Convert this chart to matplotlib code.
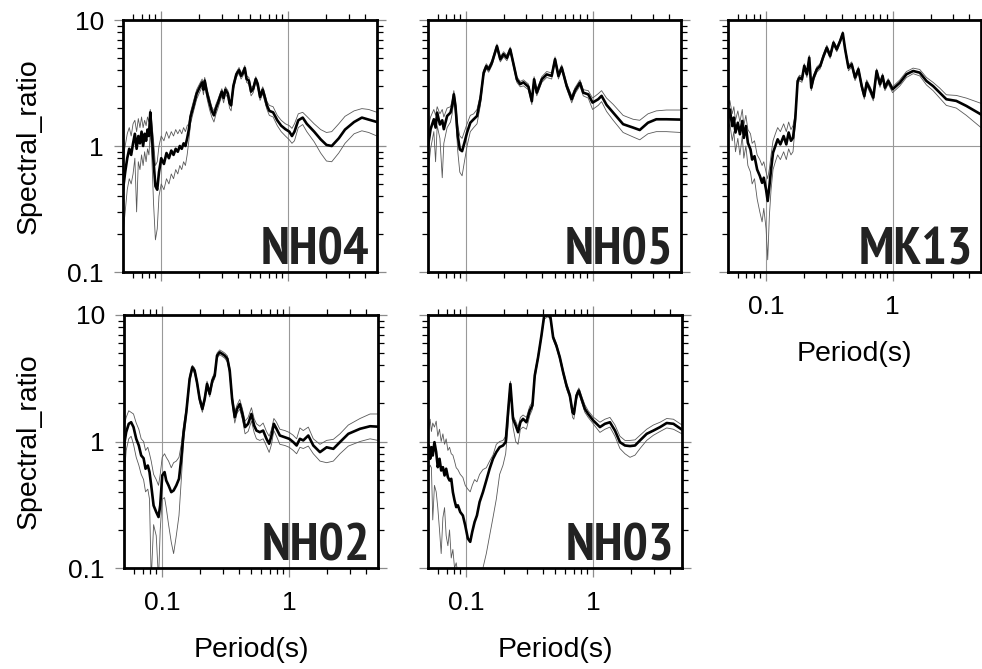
import matplotlib
matplotlib.use("Agg")
import matplotlib.pyplot as plt
from matplotlib.ticker import FixedLocator, FixedFormatter, NullFormatter

# ---------------- spectral ratio data (period in s) ----------------
nh04_period = [0.050, 0.052, 0.054, 0.056, 0.058, 0.060, 0.062, 0.064, 0.066, 0.068,
               0.070, 0.072, 0.074, 0.076, 0.078, 0.080, 0.082, 0.084, 0.087, 0.090,
               0.093, 0.096, 0.100, 0.105, 0.110, 0.115, 0.120, 0.125, 0.130, 0.135,
               0.140, 0.145, 0.150, 0.155, 0.160, 0.165, 0.170, 0.180, 0.190, 0.200,
               0.210, 0.215, 0.220, 0.230, 0.240, 0.250, 0.260, 0.270, 0.280, 0.290,
               0.300, 0.310, 0.320, 0.335, 0.345, 0.355, 0.370, 0.390, 0.410, 0.425,
               0.440, 0.455, 0.470, 0.490, 0.510, 0.530, 0.555, 0.575, 0.600, 0.630,
               0.650, 0.680, 0.710, 0.760, 0.820, 0.880, 0.950, 1.02, 1.07, 1.12,
               1.20, 1.30, 1.40, 1.60, 1.80, 2.00, 2.20, 2.50, 2.80, 3.30,
               3.80, 4.30, 5.00]
nh04_mean = [0.45, 0.62, 0.80, 0.95, 0.85, 1.05, 1.25, 0.95, 1.2, 1.05,
             1.3, 1.0, 1.25, 1.1, 1.35, 1.2, 1.85, 1.3, 0.75, 0.48,
             0.45, 0.62, 0.8, 0.72, 0.88, 0.8, 0.92, 0.85, 0.95, 0.9,
             1.0, 0.95, 1.05, 1.0, 1.15, 1.35, 1.7, 2.1, 2.6, 2.9,
             3.2, 2.8, 3.3, 2.6, 2.2, 1.9, 1.75, 2.0, 2.2, 2.45,
             2.7, 2.4, 2.8, 2.6, 2.2, 2.1, 3.0, 3.7, 4.0, 3.6,
             3.8, 4.15, 3.4, 3.3, 2.7, 2.85, 3.4, 3.1, 2.45, 2.8,
             2.5, 2.1, 1.9, 1.85, 1.6, 1.45, 1.36, 1.3, 1.2, 1.3,
             1.6, 1.68, 1.5, 1.3, 1.13, 1.02, 1.0, 1.15, 1.35, 1.55,
             1.68, 1.62, 1.55]
nh04_upper = [0.8, 1.0, 1.25, 1.4, 1.2, 1.5, 1.6, 1.3, 1.65, 1.4,
              1.7, 1.4, 1.6, 1.45, 1.7, 1.55, 1.95, 1.6, 1.1, 0.7,
              0.75, 1.0, 1.2, 1.1, 1.3, 1.15, 1.3, 1.2, 1.35, 1.25,
              1.35, 1.25, 1.4, 1.3, 1.45, 1.5, 1.85, 2.3, 2.8, 3.1,
              3.4, 3.0, 3.5, 2.8, 2.4, 2.05, 1.9, 2.15, 2.35, 2.6,
              2.85, 2.55, 2.95, 2.75, 2.35, 2.25, 3.15, 3.85, 4.2, 3.8,
              4.0, 4.35, 3.6, 3.5, 2.9, 3.0, 3.55, 3.25, 2.6, 2.95,
              2.65, 2.25, 2.1, 2.05, 1.75, 1.6, 1.5, 1.45, 1.38, 1.5,
              1.8, 1.85, 1.72, 1.5, 1.35, 1.28, 1.3, 1.5, 1.72, 1.9,
              1.98, 1.95, 1.85]
nh04_lower = [0.2, 0.3, 0.45, 0.55, 0.5, 0.6, 0.8, 0.3, 0.75, 0.65,
              0.85, 0.7, 0.9, 0.75, 0.95, 0.85, 1.3, 0.9, 0.35, 0.18,
              0.22, 0.4, 0.5, 0.45, 0.55, 0.5, 0.6, 0.55, 0.65, 0.6,
              0.7, 0.65, 0.75, 0.7, 0.85, 1.1, 1.5, 1.9, 2.35, 2.65,
              2.95, 2.55, 3.05, 2.35, 1.95, 1.7, 1.55, 1.8, 2.0, 2.25,
              2.5, 2.2, 2.6, 2.4, 2.0, 1.9, 2.8, 3.5, 3.8, 3.4,
              3.6, 3.9, 3.2, 3.1, 2.5, 2.65, 3.2, 2.9, 2.3, 2.6,
              2.3, 1.95, 1.75, 1.7, 1.45, 1.3, 1.2, 1.12, 1.05, 1.1,
              1.4, 1.48, 1.3, 1.08, 0.88, 0.76, 0.75, 0.88, 1.05, 1.25,
              1.32, 1.28, 1.2]

nh05_period = [0.050, 0.0524, 0.0556, 0.0574, 0.0591, 0.0621, 0.0648, 0.0667, 0.0708, 0.0753,
               0.0776, 0.080, 0.0824, 0.086, 0.0892, 0.093, 0.097, 0.1018, 0.108, 0.1148,
               0.122, 0.1297, 0.1377, 0.1445, 0.1508, 0.160, 0.1754, 0.1864, 0.198, 0.2103,
               0.2234, 0.2373, 0.252, 0.268, 0.284, 0.311, 0.331, 0.345, 0.362, 0.397,
               0.434, 0.475, 0.505, 0.537, 0.570, 0.624, 0.684, 0.726, 0.795, 0.844,
               0.924, 1.0, 1.108, 1.178, 1.29, 1.455, 1.743, 2.09, 2.36, 2.74,
               3.19, 3.83, 5.0]
nh05_mean = [1.0, 1.36, 1.63, 1.4, 1.84, 1.48, 1.6, 1.36, 1.73, 1.84,
             2.08, 2.57, 2.08, 1.2, 0.94, 0.91, 1.06, 1.28, 1.53, 1.63,
             1.73, 2.35, 3.82, 4.3, 4.05, 4.58, 6.2, 4.88, 5.35, 5.0,
             5.85, 4.45, 3.38, 3.1, 3.2, 2.95, 2.27, 3.38, 2.65, 3.38,
             3.7, 3.6, 4.88, 3.6, 4.2, 2.99, 2.35, 2.75, 3.18, 2.65,
             2.57, 2.21, 2.35, 2.5, 2.12, 1.84, 1.49, 1.4, 1.34, 1.53,
             1.63, 1.63, 1.62]
nh05_upper = [1.4, 1.7, 1.95, 1.75, 2.05, 1.8, 1.95, 1.7, 2.0, 2.05,
              2.3, 2.75, 2.3, 1.45, 1.2, 1.15, 1.3, 1.5, 1.75, 1.8,
              1.95, 2.55, 4.0, 4.5, 4.25, 4.8, 6.45, 5.1, 5.6, 5.25,
              6.1, 4.65, 3.55, 3.25, 3.35, 3.1, 2.4, 3.55, 2.8, 3.55,
              3.9, 3.8, 5.1, 3.8, 4.4, 3.15, 2.5, 2.9, 3.35, 2.8,
              2.75, 2.4, 2.6, 2.75, 2.4, 2.14, 1.75, 1.63, 1.6, 1.8,
              1.9, 1.93, 1.93]
nh05_lower = [0.6, 0.95, 1.3, 0.75, 1.45, 1.15, 0.56, 1.05, 1.4, 1.55,
              1.8, 2.3, 1.8, 0.9, 0.62, 0.58, 0.75, 1.0, 1.3, 1.4,
              1.5, 2.1, 3.6, 4.1, 3.85, 4.35, 5.9, 4.65, 5.1, 4.75,
              5.55, 4.2, 3.2, 2.95, 3.0, 2.8, 2.13, 3.2, 2.5, 3.2,
              3.5, 3.4, 4.65, 3.4, 4.0, 2.85, 2.2, 2.6, 3.0, 2.5,
              2.4, 1.95, 2.1, 2.25, 1.88, 1.6, 1.28, 1.18, 1.12, 1.25,
              1.3, 1.3, 1.28]

mk13_period = [0.050, 0.0517, 0.054, 0.0556, 0.0573, 0.0598, 0.0621, 0.0648, 0.0667, 0.0692,
               0.0718, 0.0753, 0.0776, 0.081, 0.085, 0.0892, 0.093, 0.0959, 0.100, 0.103,
               0.1062, 0.1095, 0.1135, 0.1184, 0.1235, 0.1297, 0.1377, 0.1445, 0.1508, 0.1573,
               0.1632, 0.170, 0.1776, 0.184, 0.192, 0.2004, 0.2103, 0.2194, 0.2276, 0.2373,
               0.252, 0.268, 0.2845, 0.302, 0.321, 0.341, 0.362, 0.385, 0.404, 0.4217,
               0.448, 0.4755, 0.505, 0.537, 0.570, 0.598, 0.624, 0.663, 0.704, 0.748,
               0.795, 0.834, 0.870, 0.924, 1.0, 1.142, 1.288, 1.455, 1.64, 1.853,
               2.09, 2.36, 2.66, 3.19, 3.83, 5.0]
mk13_mean = [1.63, 1.95, 1.44, 1.68, 1.28, 1.53, 1.24, 1.58, 1.16, 1.44,
             1.06, 0.94, 0.78, 0.83, 0.65, 0.58, 0.51, 0.56, 0.45, 0.366,
             0.48, 0.65, 0.885, 1.0, 1.13, 1.03, 1.2, 1.03, 1.28, 1.1,
             1.16, 1.63, 3.28, 3.49, 3.38, 4.32, 3.71, 5.02, 2.9, 3.49,
             4.06, 4.32, 5.18, 6.03, 5.18, 6.6, 5.85, 6.81, 7.85, 5.85,
             4.18, 4.45, 3.49, 4.06, 2.99, 2.49, 3.18, 2.82, 2.42, 3.94,
             3.09, 3.59, 2.9, 3.28, 2.82, 3.18, 3.71, 3.94, 3.82, 3.28,
             2.99, 2.65, 2.35, 2.28, 2.08, 1.78]
mk13_upper = [2.0, 2.3, 1.8, 2.05, 1.6, 1.9, 1.55, 1.95, 1.45, 1.75,
              1.35, 1.25, 1.05, 1.1, 0.85, 0.78, 0.7, 0.75, 0.62, 0.55,
              0.66, 0.85, 1.1, 1.25, 1.4, 1.3, 1.5, 1.3, 1.55, 1.35,
              1.45, 1.8, 3.45, 3.65, 3.55, 4.5, 3.9, 5.25, 3.05, 3.65,
              4.25, 4.5, 5.4, 6.3, 5.4, 6.85, 6.1, 7.05, 8.1, 6.1,
              4.4, 4.65, 3.65, 4.25, 3.15, 2.62, 3.35, 2.97, 2.55, 4.1,
              3.25, 3.75, 3.05, 3.42, 2.95, 3.35, 3.9, 4.15, 4.05, 3.5,
              3.2, 2.88, 2.55, 2.52, 2.4, 2.18]
mk13_lower = [1.3, 1.5, 1.1, 1.3, 0.9, 1.15, 0.85, 1.2, 0.8, 1.0,
              0.7, 0.62, 0.5, 0.55, 0.38, 0.3, 0.25, 0.32, 0.22, 0.125,
              0.28, 0.45, 0.65, 0.75, 0.85, 0.78, 0.9, 0.78, 0.95, 0.85,
              0.9, 1.45, 3.1, 3.3, 3.2, 4.1, 3.5, 4.8, 2.75, 3.3,
              3.85, 4.1, 4.95, 5.75, 4.95, 6.35, 5.6, 6.55, 7.6, 5.6,
              3.95, 4.25, 3.3, 3.85, 2.82, 2.35, 3.0, 2.65, 2.28, 3.75,
              2.92, 3.4, 2.75, 3.1, 2.65, 3.0, 3.5, 3.75, 3.6, 3.05,
              2.75, 2.4, 2.1, 2.0, 1.75, 1.4]

nh02_period = [0.050, 0.052, 0.0545, 0.0569, 0.0594, 0.0624, 0.0654, 0.0683, 0.0713, 0.0739,
               0.077, 0.0794, 0.0819, 0.0855, 0.0897, 0.0935, 0.0964, 0.100, 0.1043, 0.1075,
               0.1122, 0.1178, 0.1229, 0.129, 0.1355, 0.1413, 0.1474, 0.1547, 0.1643, 0.1725,
               0.180, 0.1878, 0.197, 0.207, 0.216, 0.2253, 0.2364, 0.248, 0.259, 0.270,
               0.2835, 0.2976, 0.3107, 0.326, 0.340, 0.355, 0.3725, 0.3886, 0.4077, 0.4279,
               0.4491, 0.4746, 0.504, 0.529, 0.552, 0.5866, 0.623, 0.662, 0.695, 0.7253,
               0.757, 0.794, 0.844, 0.924, 1.0, 1.075, 1.143, 1.214, 1.29, 1.413,
               1.547, 1.746, 1.97, 2.225, 2.51, 2.92, 3.61, 4.33, 5.0]
nh02_mean = [0.93, 1.185, 1.38, 1.42, 1.30, 1.05, 0.93, 0.775, 0.737, 0.609,
             0.646, 0.573, 0.449, 0.312, 0.277, 0.253, 0.312, 0.539, 0.573, 0.492,
             0.449, 0.398, 0.41, 0.449, 0.507, 0.737, 1.185, 1.705, 3.12, 3.86,
             3.63, 2.94, 2.17, 1.81, 2.17, 2.85, 2.38, 3.03, 3.32, 4.77,
             5.07, 4.92, 4.77, 4.5, 3.63, 2.17, 1.556, 1.81, 1.98, 1.65,
             1.3, 1.38, 1.65, 1.34, 1.22, 1.185, 1.22, 1.05, 0.96, 1.115,
             1.38, 1.26, 1.115, 1.08, 1.05, 0.99, 0.93, 1.05, 1.02, 1.115,
             0.93, 0.824, 0.9, 0.875, 0.99, 1.15, 1.26, 1.32, 1.31]
nh02_upper = [1.3, 1.55, 1.75, 1.7, 1.65, 1.4, 1.25, 1.05, 1.0, 0.85,
              0.9, 0.8, 0.7, 0.55, 0.5, 0.45, 0.55, 0.75, 0.8, 0.75,
              0.7, 0.62, 0.68, 0.7, 0.75, 0.95, 1.35, 1.85, 3.3, 4.0,
              3.8, 3.1, 2.3, 1.92, 2.3, 3.0, 2.5, 3.2, 3.5, 5.0,
              5.3, 5.15, 5.0, 4.75, 3.85, 2.35, 1.72, 1.95, 2.15, 1.82,
              1.45, 1.55, 1.85, 1.52, 1.38, 1.32, 1.4, 1.2, 1.1, 1.25,
              1.52, 1.42, 1.25, 1.22, 1.18, 1.12, 1.05, 1.28, 1.22, 1.3,
              1.05, 0.95, 1.02, 1.04, 1.15, 1.35, 1.52, 1.65, 1.65]
nh02_lower = [0.5, 0.85, 1.05, 1.1, 0.95, 0.75, 0.65, 0.55, 0.5, 0.4,
              0.42, 0.35, 0.08, 0.22, 0.18, 0.08, 0.2, 0.35, 0.36, 0.3,
              0.22, 0.16, 0.13, 0.18, 0.26, 0.5, 1.0, 1.55, 2.95, 3.7,
              3.45, 2.8, 2.05, 1.7, 2.05, 2.7, 2.25, 2.85, 3.15, 4.55,
              4.85, 4.7, 4.55, 4.25, 3.4, 2.0, 1.4, 1.68, 1.8, 1.5,
              1.15, 1.2, 1.45, 1.18, 1.05, 1.02, 1.05, 0.92, 0.82, 0.95,
              1.22, 1.1, 0.95, 0.93, 0.9, 0.85, 0.8, 0.9, 0.88, 0.92,
              0.8, 0.7, 0.68, 0.7, 0.8, 0.92, 1.0, 1.05, 1.02]

nh03_period = [0.050, 0.0507, 0.052, 0.0532, 0.0545, 0.0562, 0.058, 0.0597, 0.0616, 0.0635,
               0.0655, 0.0675, 0.0695, 0.0717, 0.0739, 0.0762, 0.0785, 0.0809, 0.0834, 0.0859,
               0.0897, 0.0941, 0.0982, 0.103, 0.1075, 0.1115, 0.1164, 0.1214, 0.1274, 0.1354,
               0.1439, 0.1528, 0.1624, 0.1725, 0.1833, 0.1948, 0.2044, 0.2134, 0.2226, 0.2336,
               0.2452, 0.2559, 0.2669, 0.2802, 0.2976, 0.3162, 0.332, 0.3463, 0.368, 0.391,
               0.4105, 0.4415, 0.4604, 0.4832, 0.513, 0.5455, 0.5795, 0.616, 0.6546, 0.6873,
               0.7037, 0.7384, 0.7705, 0.809, 0.8594, 0.913, 1.0, 1.129, 1.236, 1.354,
               1.483, 1.623, 1.778, 1.948, 2.133, 2.336, 2.636, 2.976, 3.36, 3.79,
               4.28, 5.0]
nh03_mean = [0.775, 0.93, 0.73, 0.902, 0.775, 0.988, 0.824, 0.627, 0.73, 0.59,
             0.627, 0.539, 0.609, 0.523, 0.492, 0.507, 0.398, 0.342, 0.303, 0.313,
             0.277, 0.26, 0.217, 0.171, 0.161, 0.193, 0.231, 0.26, 0.332, 0.398,
             0.492, 0.609, 0.73, 0.824, 0.902, 0.93, 0.988, 1.705, 2.85, 1.51,
             1.34, 1.185, 1.42, 1.51, 1.42, 1.756, 1.924, 3.32, 4.63, 6.87,
             9.8, 10.0, 9.6, 6.67, 5.72, 4.63, 3.53, 2.77, 2.31, 1.705,
             1.65, 2.31, 2.53, 2.17, 1.81, 1.65, 1.465, 1.3, 1.38, 1.42,
             1.22, 0.988, 0.93, 0.92, 0.93, 1.02, 1.15, 1.22, 1.3, 1.40,
             1.38, 1.24]
nh03_upper = [1.45, 1.25, 1.5, 1.2, 1.4, 1.3, 1.45, 1.1, 1.25, 1.0,
              1.15, 0.95, 1.05, 0.85, 0.9, 0.8, 0.78, 0.7, 0.62, 0.6,
              0.55, 0.52, 0.45, 0.42, 0.4, 0.45, 0.5, 0.48, 0.55, 0.6,
              0.62, 0.7, 0.78, 0.95, 1.0, 1.02, 1.1, 1.85, 3.0, 1.6,
              1.45, 1.3, 1.55, 1.62, 1.55, 1.9, 2.05, 3.5, 4.85, 7.1,
              10.2, 10.5, 9.9, 6.9, 5.95, 4.8, 3.7, 2.9, 2.42, 1.8,
              1.75, 2.42, 2.65, 2.3, 1.95, 1.75, 1.56, 1.42, 1.5, 1.55,
              1.35, 1.1, 1.02, 1.02, 1.03, 1.12, 1.25, 1.35, 1.42, 1.52,
              1.5, 1.35]
nh03_lower = [0.55, 0.6, 0.65, 0.62, 0.24, 0.45, 0.4, 0.3, 0.2, 0.13,
              0.25, 0.3, 0.18, 0.15, 0.2, 0.12, 0.14, 0.1, 0.11, 0.09,
              0.08, 0.07, 0.06, 0.05, 0.05, 0.06, 0.07, 0.08, 0.09, 0.1,
              0.13, 0.18, 0.25, 0.35, 0.55, 0.65, 0.8, 1.3, 2.7, 1.3,
              1.0, 0.95, 1.25, 1.3, 1.25, 1.6, 1.8, 3.1, 4.45, 6.6,
              9.3, 9.7, 9.2, 6.4, 5.5, 4.4, 3.35, 2.6, 2.2, 1.55,
              1.5, 2.15, 2.4, 2.05, 1.7, 1.55, 1.38, 1.18, 1.25, 1.3,
              1.1, 0.88, 0.8, 0.75, 0.78, 0.88, 1.02, 1.12, 1.2, 1.28,
              1.25, 1.15]

# ---------------- axes setup ----------------
x_major = [0.1, 1]
x_major_labels = ["0.1", "1"]
x_minor = [0.06, 0.07, 0.08, 0.09, 0.2, 0.3, 0.4, 0.5, 0.6, 0.7, 0.8, 0.9, 2, 3, 4]
y_major = [0.1, 1, 10]
y_major_labels = ["0.1", "1", "10"]
y_minor = [0.2, 0.3, 0.4, 0.5, 0.6, 0.7, 0.8, 0.9, 2, 3, 4, 5, 6, 7, 8, 9]

plt.rcParams['font.family'] = ['Liberation Sans', 'DejaVu Sans']
station_font = ['PT Sans Narrow', 'Liberation Sans Narrow', 'Roboto Condensed',
                'Archivo Narrow', 'Liberation Sans']

W, H = 982, 669
fig = plt.figure(figsize=(W / 100, H / 100), dpi=100)


def rect(left, top, right, bottom):
    return [left / W, 1 - bottom / H, (right - left) / W, (bottom - top) / H]


panels = [
    ("NH04", nh04_period, nh04_mean, nh04_upper, nh04_lower, (123, 20, 377, 272), False, True),
    ("NH05", nh05_period, nh05_mean, nh05_upper, nh05_lower, (428, 20, 681, 272), False, False),
    ("MK13", mk13_period, mk13_mean, mk13_upper, mk13_lower, (728, 20, 981, 272), True, False),
    ("NH02", nh02_period, nh02_mean, nh02_upper, nh02_lower, (124, 315, 378, 568), True, True),
    ("NH03", nh03_period, nh03_mean, nh03_upper, nh03_lower, (428, 315, 682, 568), True, False),
]

for name, per, mean, up, lo, box, xlab, ylab in panels:
    ax = fig.add_axes(rect(*box))
    ax.set_xscale('log')
    ax.set_yscale('log')
    ax.set_xlim(0.05, 5)
    ax.set_ylim(0.1, 10)
    ax.set_axisbelow(True)

    ax.xaxis.set_major_locator(FixedLocator(x_major))
    ax.xaxis.set_minor_locator(FixedLocator(x_minor))
    ax.yaxis.set_major_locator(FixedLocator(y_major))
    ax.yaxis.set_minor_locator(FixedLocator(y_minor))
    ax.xaxis.set_minor_formatter(NullFormatter())
    ax.yaxis.set_minor_formatter(NullFormatter())
    if xlab:
        ax.xaxis.set_major_formatter(FixedFormatter(x_major_labels))
    else:
        ax.xaxis.set_major_formatter(NullFormatter())
    if ylab:
        ax.yaxis.set_major_formatter(FixedFormatter(y_major_labels))
    else:
        ax.yaxis.set_major_formatter(NullFormatter())

    ax.tick_params(which='major', direction='out', length=6.8, width=0.9,
                   color='0.55', top=True, right=True, labelsize=19)
    ax.tick_params(axis='x', which='major', pad=10)
    ax.tick_params(axis='y', which='major', pad=7)
    ax.tick_params(which='minor', direction='out', length=4.0, width=0.9,
                   color='black', top=True, right=True)
    # end-of-range decade ticks are solid black; gridded decades stay grey
    for val, tk in zip(y_major, ax.yaxis.get_major_ticks()):
        if val != 1:
            tk.tick1line.set_color('black')
            tk.tick2line.set_color('black')
    ax.grid(which='major', color='0.6', linewidth=0.8)
    for sp in ax.spines.values():
        sp.set_linewidth(2.0)
        sp.set_zorder(5)

    ax.plot(per, up, color='0.35', linewidth=0.6)
    ax.plot(per, lo, color='0.35', linewidth=0.6)
    ax.plot(per, mean, color='black', linewidth=1.9)

    ax.text(0.968, 0.03, name, transform=ax.transAxes, ha='right', va='baseline',
            fontsize=38.5, fontweight='bold', color='#222222', family=station_font)

    cx = (box[0] + box[2]) / 2
    if xlab:
        fig.text(cx / W, 1 - (box[3] + 82) / H, "Period(s)", ha='center', va='center',
                 fontsize=20.5)
    if ylab:
        cy = (box[1] + box[3]) / 2
        fig.text(29 / W, 1 - cy / H, "Spectral_ratio", rotation=90, ha='center',
                 va='center', fontsize=20.5)

fig.savefig("out.png", dpi=100)
